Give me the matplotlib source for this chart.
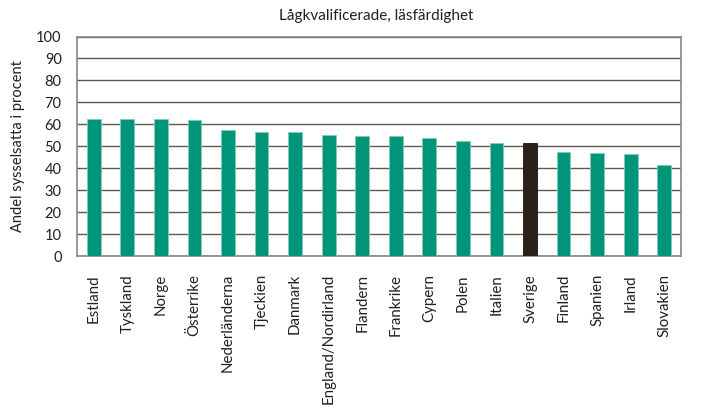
import matplotlib
matplotlib.use('Agg')
import matplotlib.pyplot as plt

plt.rcParams['font.family'] = ['Lato', 'DejaVu Sans']

countries = ['Estland', 'Tyskland', 'Norge', 'Österrike', 'Nederländerna', 'Tjeckien',
             'Danmark', 'England/Nordirland', 'Flandern', 'Frankrike', 'Cypern', 'Polen',
             'Italien', 'Sverige', 'Finland', 'Spanien', 'Irland', 'Slovakien']
values = [62.5, 62.5, 62.5, 61.8, 57.3, 56.6, 56.3, 55.2, 54.7, 54.6, 53.6, 52.5,
          51.6, 51.6, 47.4, 46.9, 46.4, 41.3]
highlight = 'Sverige'

teal = '#009478'
dark = '#2a211c'
grid_col = '#5e5955'

colors = [dark if c == highlight else teal for c in countries]
edges = ['#1a1410' if c == highlight else '#7fcbb8' for c in countries]

fig = plt.figure(figsize=(7.01, 4.08), dpi=100)
ax = fig.add_axes([77 / 701, 1 - 256 / 408, 604 / 701, 219.5 / 408])

x = list(range(len(countries)))
ax.bar(x, values, width=0.41, color=colors, edgecolor=edges, linewidth=0.6, zorder=3)

ax.set_xlim(-0.5, len(countries) - 0.5)
ax.set_ylim(0, 100)
ax.set_yticks(range(0, 101, 10))
ax.yaxis.grid(True, color=grid_col, linewidth=1.0, zorder=0)
ax.set_axisbelow(True)

for s in ax.spines.values():
    s.set_color('#8a8580')
    s.set_linewidth(1.2)

ax.set_xticks(x)
ax.set_xticklabels(countries, rotation=90, fontsize=10.8, color='#231f20')
ax.tick_params(axis='x', length=0, pad=13)
ax.tick_params(axis='y', length=0, pad=11, labelsize=10.5, labelcolor='#231f20')

ax.set_ylabel('Andel sysselsatta i procent', fontsize=10.5, color='#231f20', labelpad=8)
fig.text(376 / 701, 1 - 16 / 408, 'Lågkvalificerade, läsfärdighet', ha='center', va='center',
         fontsize=11, color='#231f20')

fig.savefig('out.png', dpi=100)
